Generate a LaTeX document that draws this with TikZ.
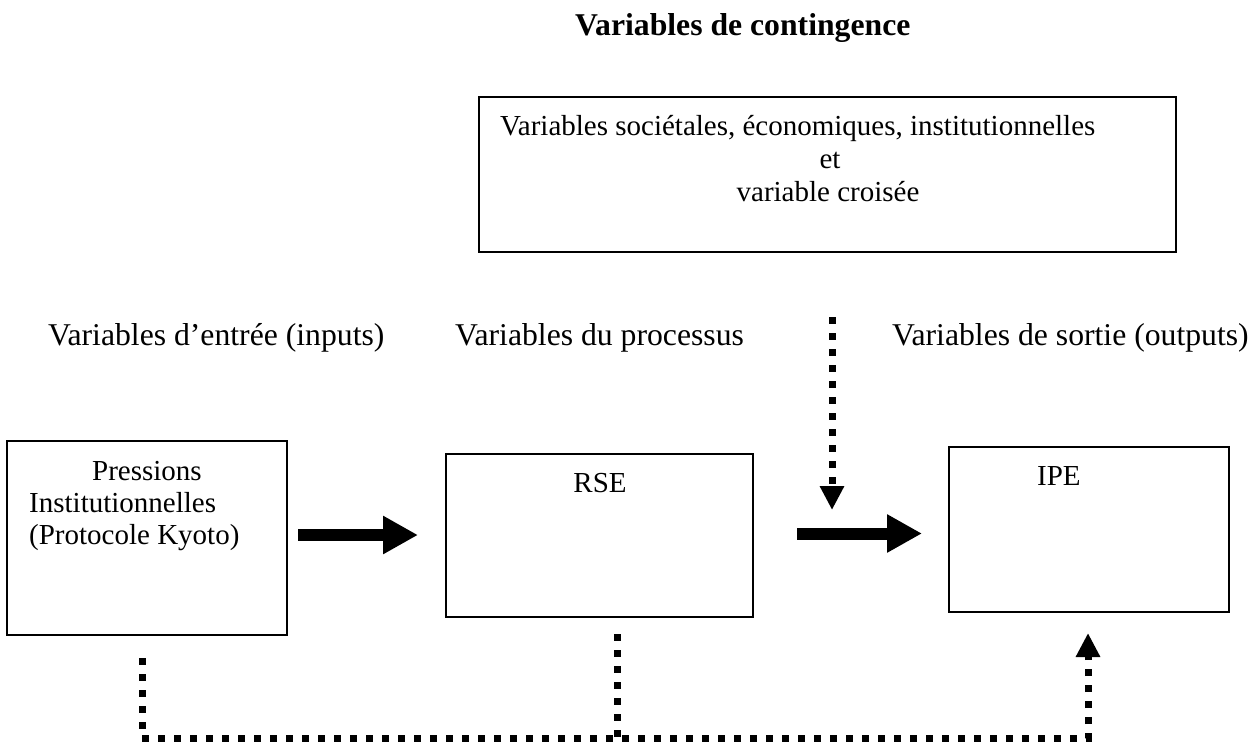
\documentclass[tikz,border=0pt]{standalone}
\usepackage{fontspec}
\setmainfont{Liberation Serif}
\usetikzlibrary{arrows.meta}
\newcommand\bxfont{\fontsize{29}{33}\selectfont}
\newcommand\lbfont{\fontsize{31.7}{38}\selectfont}
\tikzset{
  frame/.style={draw, line width=1.6pt, rectangle, inner sep=0pt, outer sep=0pt},
  boxtext/.style={inner sep=0pt, font=\bxfont},
  labtext/.style={inner sep=0pt, font=\lbfont, anchor=base west},
  blockarrow/.style={line width=12pt, -{Triangle[length=35pt,width=36pt]}},
  dotline/.style={line width=7pt, dash pattern=on 7pt off 9pt},
  dotarrow/.style={dotline, -{Triangle[length=24pt,width=23pt]}}
}
\begin{document}
\begin{tikzpicture}[x=1pt,y=-1pt]
\useasboundingbox (0,0) rectangle (1255,745);
% title
\node[labtext, font=\lbfont\bfseries] (title) at (575,35) {Variables de contingence};
% contingency box
\node[frame, minimum width=697pt, minimum height=155pt] (ctx) at (827.5,174.5) {};
\node[boxtext, anchor=base west] (ctx1) at (500,135) {Variables sociétales, économiques, institutionnelles};
\node[boxtext, anchor=base] (ctx2) at (830,168) {et};
\node[boxtext, anchor=base] (ctx3) at (828,201) {variable croisée};
% column labels
\node[labtext] (lab1) at (48,345) {Variables d’entrée (inputs)};
\node[labtext] (lab2) at (455,345) {Variables du processus};
\node[labtext] (lab3) at (892,345) {Variables de sortie (outputs)};
% main boxes
\node[frame, minimum width=280pt, minimum height=194pt] (press) at (147,538) {};
\node[frame, minimum width=307pt, minimum height=163pt] (rse) at (599.5,535.5) {};
\node[frame, minimum width=280pt, minimum height=165pt] (ipe) at (1089,529.5) {};
\node[boxtext, anchor=base] (p1) at (147,480) {Pressions};
\node[boxtext, anchor=base west] (p2) at (29,512) {Institutionnelles};
\node[boxtext, anchor=base west] (p3) at (29,544) {(Protocole Kyoto)};
\node[boxtext, anchor=base] (rsetxt) at (600,492) {RSE};
\node[boxtext, anchor=base west] (ipetxt) at (1037,485) {IPE};
% block arrows
\draw[blockarrow, shorten <=11pt, shorten >=28pt] ([yshift=3pt]press.east) -- ([yshift=3pt]press.east -| rse.west);
\draw[blockarrow, shorten <=44pt, shorten >=27pt] ([yshift=2pt]rse.east) -- ([yshift=2pt]rse.east -| ipe.west);
% moderating dotted arrow
\coordinate (mod) at (832,510);
\draw[dotarrow, shorten <=65pt] (ctx.south -| mod) -- (mod);
% bottom dotted connector
\coordinate (bl) at (142,738);
\coordinate (br) at (1088,738);
\coordinate (rb) at (617,738);
\draw[dotarrow, shorten <=23pt, shorten >=21pt] (press.south -| bl) -- (bl) -- (br) -- (ipe.south -| br);
\draw[dotline, shorten <=17pt] (rse.south -| rb) -- (rb);
\end{tikzpicture}
\end{document}
